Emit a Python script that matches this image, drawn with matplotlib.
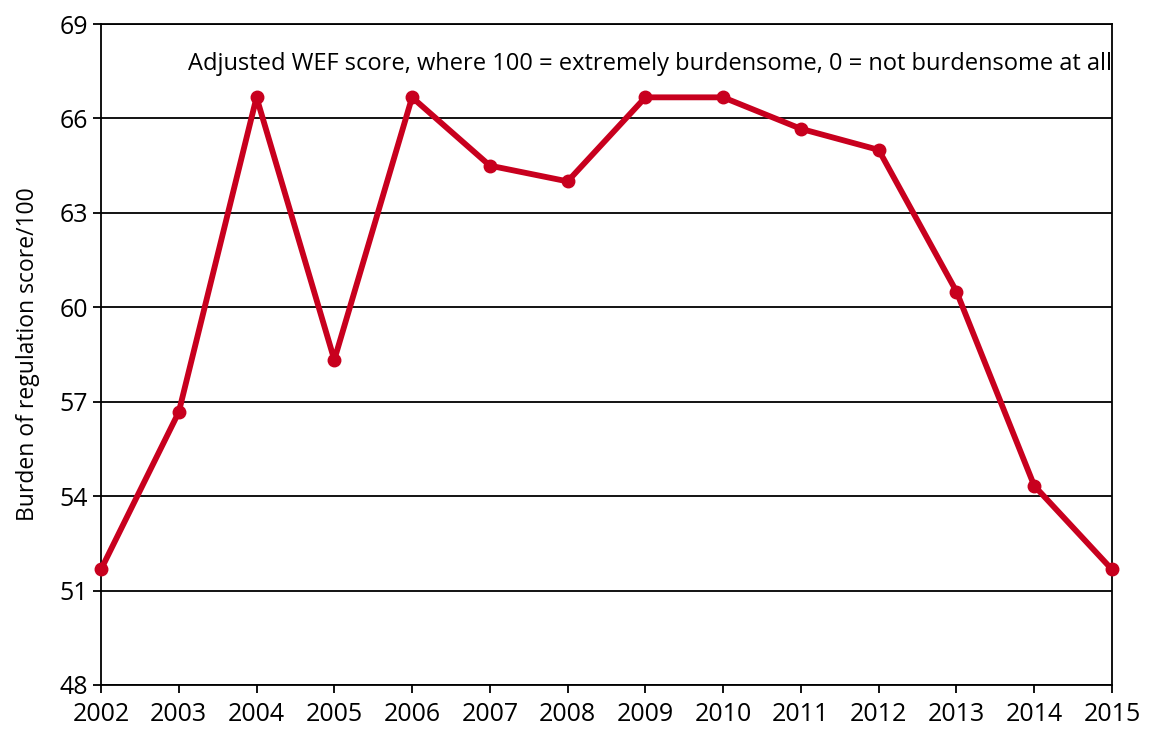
import matplotlib.pyplot as plt

years = [2002, 2003, 2004, 2005, 2006, 2007, 2008, 2009, 2010, 2011, 2012, 2013, 2014, 2015]
scores = [51.67, 56.67, 66.67, 58.33, 66.67, 64.5, 64.0, 66.67, 66.67, 65.67, 65.0, 60.5, 54.33, 51.67]
yticks = [48, 51, 54, 57, 60, 63, 66, 69]

plt.rcParams['font.family'] = ['Open Sans', 'DejaVu Sans']

fig = plt.figure(figsize=(11.5, 7.31), dpi=100)
ax = fig.add_axes([101/1150, 1 - 685/731, (1112 - 101)/1150, (685 - 24)/731])

for y in yticks:
    ax.axhline(y, color='black', lw=1.3, zorder=1)

ax.plot(years, scores, color='#C8001E', lw=4.2, marker='o', markersize=9, zorder=3, clip_on=False)

ax.set_xlim(2002, 2015)
ax.set_ylim(48, 69)
ax.set_xticks(years)
ax.set_yticks(yticks)
ax.tick_params(axis='both', labelsize=18, direction='out', length=6, width=1.3, color='black')
ax.tick_params(axis='x', pad=6)
for s in ax.spines.values():
    s.set_linewidth(1.3)
    s.set_color('black')

ax.set_ylabel('Burden of regulation score/100', fontsize=16.5, labelpad=14)
ax.text(1.0, 0.94, 'Adjusted WEF score, where 100 = extremely burdensome, 0 = not burdensome at all',
        transform=ax.transAxes, ha='right', va='center', fontsize=17)

fig.savefig('out.png', dpi=100)
